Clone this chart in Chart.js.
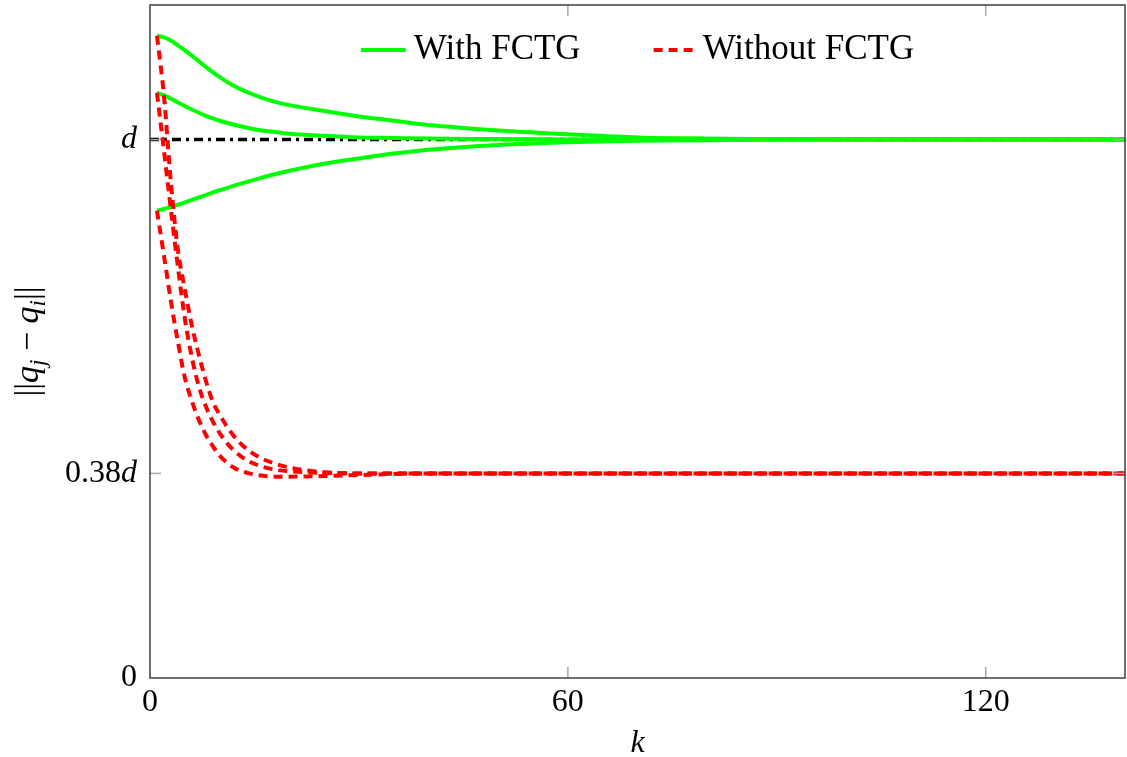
<!DOCTYPE html>
<html>
<head>
<meta charset="utf-8">
<script src="https://cdn.jsdelivr.net/npm/chart.js@4.4.1/dist/chart.umd.min.js"></script>
<style>
    html, body { margin: 0; padding: 0; background: #fff; }
    #wrap { width: 1127px; height: 757px; }
</style>
</head>
<body>
<div id="wrap"><canvas id="chart"></canvas></div>
<script>
var kGreen = [1, 2, 3, 4, 6, 8, 10, 12, 14, 16, 18, 20, 25, 30, 35, 40, 50, 60, 70, 80, 90, 100, 120, 140];
var kRed = [1, 2, 3, 4, 5, 6, 7, 8, 9, 10, 12, 14, 16, 18, 20, 25, 30, 35, 40, 60, 80, 100, 120, 140];

// with FCTG (in units of d)
var greenTop = [1.193, 1.190, 1.184, 1.175, 1.156, 1.135, 1.116, 1.100, 1.088, 1.078, 1.070, 1.064, 1.053, 1.043, 1.035, 1.027, 1.017, 1.010, 1.004, 1.002, 1.001, 1.000, 1.000, 1.000];
var greenMid = [1.087, 1.082, 1.076, 1.069, 1.056, 1.044, 1.035, 1.028, 1.022, 1.017, 1.014, 1.011, 1.007, 1.004, 1.003, 1.002, 1.001, 1.000, 1.000, 1.000, 1.000, 1.000, 1.000, 1.000];
var greenLow = [0.868, 0.871, 0.875, 0.879, 0.888, 0.897, 0.906, 0.914, 0.922, 0.929, 0.936, 0.942, 0.955, 0.965, 0.974, 0.981, 0.990, 0.995, 0.998, 0.999, 1.000, 1.000, 1.000, 1.000];

// without FCTG
var redHigh = [1.193, 1.082, 0.920, 0.796, 0.722, 0.655, 0.601, 0.553, 0.514, 0.489, 0.450, 0.424, 0.408, 0.398, 0.391, 0.382, 0.380, 0.380, 0.380, 0.380, 0.380, 0.380, 0.380, 0.380];
var redMid = [1.087, 0.980, 0.870, 0.764, 0.668, 0.596, 0.542, 0.505, 0.477, 0.455, 0.423, 0.404, 0.393, 0.387, 0.384, 0.381, 0.380, 0.380, 0.380, 0.380, 0.380, 0.380, 0.380, 0.380];
var redLow = [0.868, 0.785, 0.700, 0.625, 0.558, 0.515, 0.480, 0.452, 0.431, 0.413, 0.391, 0.381, 0.376, 0.374, 0.374, 0.375, 0.377, 0.379, 0.380, 0.380, 0.380, 0.380, 0.380, 0.380];

// reference level d
var kRef = [0, 140];
var refLevel = [1, 1];

var xTicks = [0, 60, 120];
var yTicks = [0, 0.38, 1];
var yTickLabels = [['0', ''], ['0.38', 'd'], ['', 'd']];
var legendLabels = ['With FCTG', 'Without FCTG'];

var sFont = '"Liberation Serif", "Times New Roman", serif';
var sGreen = '#00ff00';
var sRed = '#ff0000';

function toPoints(aK, aV) {
    var aOut = [];
    for (var i = 0; i < aK.length; i++)
        aOut.push({x: aK[i], y: aV[i]});
    return aOut;
}

function greenSet(aV) {
    return {data: toPoints(kGreen, aV), borderColor: sGreen, borderWidth: 4, order: 1};
}

function redSet(aV) {
    return {data: toPoints(kRed, aV), borderColor: sRed, borderWidth: 4, borderDash: [9, 6], order: 0};
}

function strokeLine(ctx, x1, y1, x2, y2) {
    ctx.beginPath();
    ctx.moveTo(x1, y1);
    ctx.lineTo(x2, y2);
    ctx.stroke();
}

// draw a run of [text, italic, size, dy] pieces starting at x
function drawPieces(ctx, aPieces, x, y) {
    aPieces.forEach(function(p) {
        ctx.font = (p[1] ? 'italic ' : '') + p[2] + 'px ' + sFont;
        ctx.fillText(p[0], x, y + p[3]);
        x += ctx.measureText(p[0]).width;
    });
}

function piecesWidth(ctx, aPieces) {
    var w = 0;
    aPieces.forEach(function(p) {
        ctx.font = (p[1] ? 'italic ' : '') + p[2] + 'px ' + sFont;
        w += ctx.measureText(p[0]).width;
    });
    return w;
}

var oDecor = {
    id: 'decor',
    afterDraw: function(chart) {
        var ctx = chart.ctx, a = chart.chartArea;
        var sx = chart.scales.x, sy = chart.scales.y;
        ctx.save();

        // inward ticks on all four sides
        ctx.strokeStyle = '#a8a8a8';
        ctx.lineWidth = 1.5;
        xTicks.forEach(function(v) {
            if (v <= sx.min || v >= sx.max) return;
            var px = sx.getPixelForValue(v);
            strokeLine(ctx, px, a.bottom, px, a.bottom - 11);
            strokeLine(ctx, px, a.top, px, a.top + 11);
        });
        yTicks.forEach(function(v) {
            if (v <= sy.min || v >= sy.max) return;
            var py = sy.getPixelForValue(v);
            strokeLine(ctx, a.left, py, a.left + 11, py);
            strokeLine(ctx, a.right, py, a.right - 11, py);
        });

        // frame
        ctx.strokeStyle = '#404040';
        ctx.lineWidth = 1.5;
        ctx.strokeRect(a.left, a.top, a.right - a.left, a.bottom - a.top);

        ctx.fillStyle = '#000';
        ctx.textBaseline = 'middle';
        ctx.textAlign = 'left';

        // y tick labels, the d in italic
        yTicks.forEach(function(v, i) {
            var py = sy.getPixelForValue(v);
            var aP = [[yTickLabels[i][0], false, 32, 0], [yTickLabels[i][1], true, 32, 0]];
            var w = piecesWidth(ctx, aP);
            drawPieces(ctx, aP, a.left - 13 - w, py);
        });

        // x axis title
        ctx.textBaseline = 'alphabetic';
        ctx.font = 'italic 32px ' + sFont;
        ctx.textAlign = 'center';
        ctx.fillText('k', (a.left + a.right) / 2, 752);
        ctx.textAlign = 'left';

        // y axis title ||q_j - q_i||
        var aTitle = [['||', false, 34, 0], ['q', true, 34, 0], ['j', true, 23, 7], [' \u2212 ', false, 34, 0],
            ['q', true, 34, 0], ['i', true, 23, 7], ['||', false, 34, 0]];
        ctx.save();
        ctx.translate(38, (a.top + a.bottom) / 2);
        ctx.rotate(-Math.PI / 2);
        drawPieces(ctx, aTitle, -piecesWidth(ctx, aTitle) / 2, 0);
        ctx.restore();

        // legend
        var ly = 50;
        ctx.font = '35px ' + sFont;
        ctx.textBaseline = 'middle';
        var w1 = ctx.measureText(legendLabels[0]).width;
        var w2 = ctx.measureText(legendLabels[1]).width;
        var total = 45 + 8 + w1 + 73 + 39 + 10 + w2;
        var lx = (a.left + a.right) / 2 - total / 2;
        ctx.lineWidth = 4;
        ctx.strokeStyle = sGreen;
        strokeLine(ctx, lx, ly, lx + 45, ly);
        ctx.fillText(legendLabels[0], lx + 53, ly);
        lx += 53 + w1 + 73;
        ctx.strokeStyle = sRed;
        ctx.setLineDash([9, 6]);
        strokeLine(ctx, lx, ly, lx + 39, ly);
        ctx.setLineDash([]);
        ctx.fillText(legendLabels[1], lx + 49, ly);

        ctx.restore();
    }
};

var aDatasets = [
    redSet(redHigh), redSet(redMid), redSet(redLow),
    greenSet(greenTop), greenSet(greenMid), greenSet(greenLow),
    {data: toPoints(kRef, refLevel), borderColor: '#000', borderWidth: 3.5, borderDash: [9, 5, 3, 5], order: 2}
];

new Chart(document.getElementById('chart'), {
    type: 'line',
    data: {datasets: aDatasets},
    options: {
        responsive: true,
        maintainAspectRatio: false,
        animation: false,
        layout: {padding: {top: 5, right: 2, left: 0, bottom: 0}},
        elements: {
            point: {radius: 0},
            line: {cubicInterpolationMode: 'monotone', borderCapStyle: 'butt', fill: false}
        },
        plugins: {legend: {display: false}, tooltip: {enabled: false}},
        scales: {
            x: {
                type: 'linear', min: 0, max: 140,
                afterBuildTicks: function(s) { s.ticks = xTicks.map(function(v) { return {value: v}; }); },
                afterFit: function(s) { s.height = 79; },
                grid: {display: false, drawTicks: false},
                border: {display: false},
                ticks: {color: '#000', padding: 5, maxRotation: 0, font: {family: sFont, size: 32}}
            },
            y: {
                type: 'linear', min: 0, max: 1.25,
                afterBuildTicks: function(s) { s.ticks = yTicks.map(function(v) { return {value: v}; }); },
                afterFit: function(s) { s.width = 150; },
                grid: {display: false, drawTicks: false},
                border: {display: false},
                ticks: {display: false}
            }
        }
    },
    plugins: [oDecor]
});
</script>
</body>
</html>
